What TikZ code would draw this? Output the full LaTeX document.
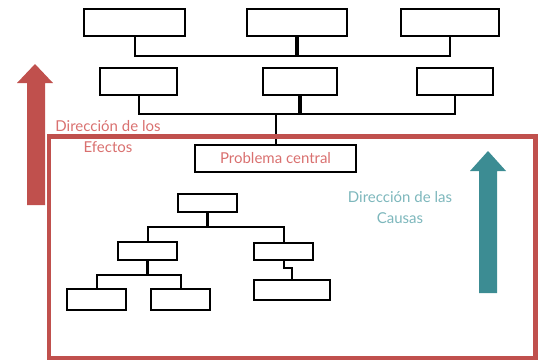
\documentclass[tikz,border=0pt]{standalone}
\usepackage{fontspec}
\setmainfont{Lato}
\usepackage{xcolor}
\usetikzlibrary{positioning, calc}
\definecolor{efred}{HTML}{C0504D}
\definecolor{eftext}{HTML}{D9706F}
\definecolor{cateal}{HTML}{3C8C93}
\definecolor{catext}{HTML}{7DB7BC}

\begin{document}
\begin{tikzpicture}[x=1pt, y=-1pt,
  box/.style={draw, line width=2.2pt, inner sep=0pt},
  link/.style={line width=2pt},
  stem/.style={line width=3.2pt},
  lbl/.style={align=center, font=\fontsize{15}{21}\selectfont}]
\useasboundingbox (0,0) rectangle (538,360);

% Efectos
\node[box, minimum width=101pt, minimum height=27pt] (e1) at (134.5,22.5) {};
\node[box, minimum width=100pt, minimum height=27pt] (e2) at (297,22.5) {};
\node[box, minimum width=98pt, minimum height=27pt] (e3) at (450,22.5) {};
\node[box, minimum width=77pt, minimum height=27pt] (e4) at (138.5,81.5) {};
\node[box, minimum width=74pt, minimum height=27pt] (e5) at (300,81.5) {};
\node[box, minimum width=76pt, minimum height=27pt] (e6) at (455,81.5) {};
\coordinate (b1) at (297,56);
\coordinate (b2) at (300,114);
\draw[link] (e1.south) |- (b1) -| (e3.south);
\draw[stem] (e2.south) -- (b1);
\draw[link] (e4.south) |- (b2) -| (e6.south);
\draw[stem] (e5.south) -- (b2);

% Problema central
\node[box, minimum width=161pt, minimum height=27pt, text=eftext,
  font=\fontsize{15}{16}\selectfont] (pc) at (275.5,158.5) {Problema central};
\draw[link] (pc.north) -- (pc.north |- b2);

% Causas
\node[box, minimum width=59pt, minimum height=18pt] (c1) at (207.5,203) {};
\node[box, minimum width=59pt, minimum height=18pt] (c2) at (147.5,251) {};
\node[box, minimum width=59pt, minimum height=17pt] (c3) at (283.5,251.5) {};
\node[box, minimum width=59pt, minimum height=21pt] (c4) at (96.5,299.5) {};
\node[box, minimum width=59pt, minimum height=21pt] (c5) at (180.5,299.5) {};
\node[box, minimum width=76pt, minimum height=20pt] (c6) at (292,290) {};
\coordinate (b3) at (207.5,227);
\coordinate (b4) at (147.5,275);
\draw[stem] (c1.south) -- (b3);
\draw[link] (c2.north) |- (b3) -| (c3.north);
\draw[stem] (c2.south) -- (b4);
\draw[link] (c4.north) |- (b4) -| (c5.north);
\draw[link] (c3.south) -- ++(0,7) -| (c6.north);

% Marco
\draw[efred, line width=4.5pt] (49,136.5) rectangle (535.5,358);

% Flechas
\fill[efred] (27,205) -- (27,83) -- (17,83) -- (35,64) -- (53,83) -- (45,83) -- (45,205) -- cycle;
\fill[cateal] (479,293) -- (479,171) -- (470,171) -- (488,151) -- (506,171) -- (497,171) -- (497,293) -- cycle;

% Textos
\node[lbl, text=eftext] (tef) at (108,137) {Dirección de los\\Efectos};
\node[lbl, text=catext] (tca) at (400,208) {Dirección de las\\Causas};
\end{tikzpicture}
\end{document}
